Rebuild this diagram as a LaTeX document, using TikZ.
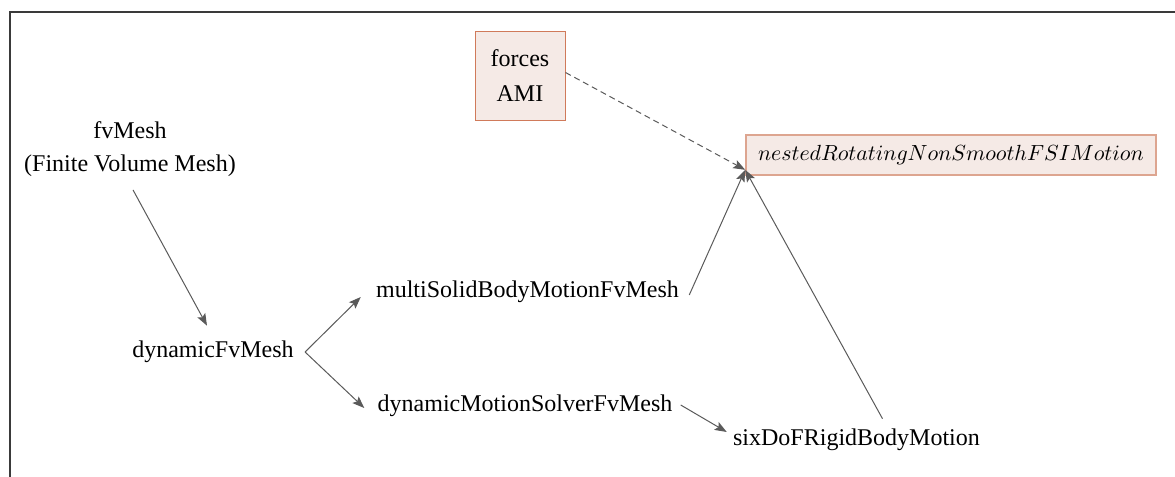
\documentclass[tikz,border=0pt]{standalone}
\usepackage{fontspec}
\setmainfont{Liberation Serif}
\usetikzlibrary{arrows.meta,calc}
\definecolor{boxfill}{HTML}{F5EAE6}
\definecolor{boxdraw}{HTML}{D07A5A}
\definecolor{boxdrawlight}{HTML}{DDA590}
\definecolor{edgecol}{HTML}{5A5A5A}
\definecolor{framecol}{HTML}{3A3A3A}
\begin{document}
\begin{tikzpicture}[x=0.5pt,y=-0.5pt,
  lbl/.style={font=\fontsize{12}{16.5}\selectfont, align=center, inner sep=2pt},
  classbox/.style={draw=boxdraw, fill=boxfill, line width=0.5pt, align=center,
    font=\fontsize{12}{17.5}\selectfont, minimum width=45pt, minimum height=44.5pt},
  targetbox/.style={draw=boxdrawlight, fill=boxfill, line width=0.8pt,
    minimum width=205pt, minimum height=20pt, inner sep=1pt, font=\fontsize{11.1}{14}\selectfont},
  conn/.style={draw=edgecol, line width=0.5pt, -{Stealth[length=6pt,width=4.5pt,inset=1.2pt]}},
  dconn/.style={conn, dash pattern=on 3pt off 2pt}]
\useasboundingbox (0,0) rectangle (1175,477);
\draw[framecol, line width=0.6pt] (10,477) -- (10,12) -- (1175,12);
\node[lbl] (fv) at (130,149) {fvMesh\\(Finite Volume Mesh)};
\node[lbl] (dyn) at (213,352) {dynamicFvMesh};
\node[lbl] (ms) at (527.5,292) {multiSolidBodyMotionFvMesh};
\node[lbl] (dms) at (525,406) {dynamicMotionSolverFvMesh};
\node[lbl] (six) at (856.5,440) {sixDoFRigidBodyMotion};
\node[classbox] (forces) at (520,75.5) {forces\\AMI};
\node[targetbox] (nested) at (951,155) {$nestedRotatingNonSmoothFSIMotion$};
\coordinate (nt) at ($(nested.south west)+(0,-6)$);
\draw[conn] ($(fv.south)+(3,9)$) -- ($(dyn.north)+(-6,-11)$);
\draw[conn] ($(dyn.east)+(7,0)$) -- ($(ms.west)+(-11,5)$);
\draw[conn] ($(dyn.east)+(7,0)$) -- ($(dms.west)+(-9,2)$);
\draw[conn] ($(ms.east)+(6,3)$) -- (nt);
\draw[conn] ($(six.north)+(26,-6)$) -- (nt);
\draw[conn] ($(dms.east)+(4,-1)$) -- ($(six.west)+(-2,-8)$);
\draw[dconn] ($(forces.east)+(0,-3)$) -- (nt);
\end{tikzpicture}
\end{document}
